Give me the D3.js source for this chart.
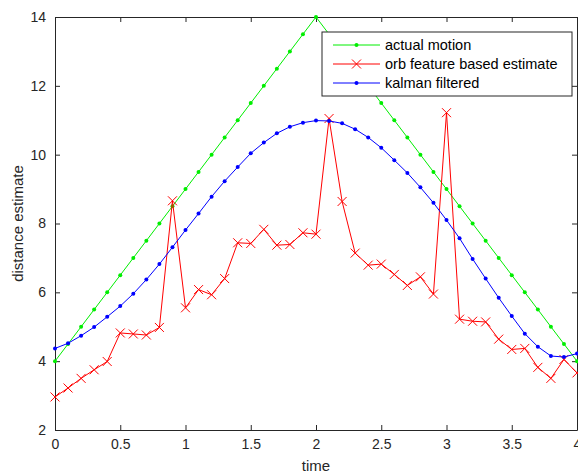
<!DOCTYPE html>
<meta charset="utf-8">
<title>distance estimate</title>
<script src="https://cdn.jsdelivr.net/npm/d3@7"></script>
<style>
  html,body{margin:0;background:#fff}
  svg{display:block;font-family:"Liberation Sans",Arial,sans-serif}
  .tick text{fill:#262626;font-size:14px}
  .domain,.tick line{stroke:#262626}
</style>
<svg width="578" height="475"></svg>
<script>
// sample times 0..4, step 0.1
const times = d3.range(41).map(i => i / 10);

const actualMotion = [4,4.5,5,5.5,6,6.5,7,7.5,8,8.5,9,9.5,10,10.5,11,11.5,12,12.5,13,13.5,14,
  13.5,13,12.5,12,11.5,11,10.5,10,9.5,9,8.5,8,7.5,7,6.5,6,5.5,5,4.5,4];

const orbEstimate = [2.96,3.22,3.5,3.75,3.99,4.82,4.79,4.76,4.98,8.66,5.55,6.08,5.93,6.4,7.44,7.42,7.83,7.37,7.39,7.73,7.69,
  11.05,8.64,7.14,6.79,6.82,6.52,6.2,6.45,5.95,11.22,5.22,5.16,5.14,4.64,4.34,4.37,3.82,3.5,4.05,3.66];

const kalmanFiltered = [4.37,4.52,4.74,4.99,5.29,5.6,5.96,6.37,6.82,7.31,7.81,8.29,8.78,9.23,9.64,10.04,10.35,10.62,10.81,10.93,10.99,
  10.98,10.91,10.74,10.5,10.2,9.84,9.47,9.05,8.6,8.1,7.57,6.97,6.4,5.84,5.31,4.8,4.42,4.15,4.12,4.22];

const xTicks = [0,0.5,1,1.5,2,2.5,3,3.5,4];
const yTicks = [2,4,6,8,10,12,14];
const legendLabels = ['actual motion','orb feature based estimate','kalman filtered'];

const L = 55, R = 577, T = 17, B = 430;
const svg = d3.select('svg');
const x = d3.scaleLinear().domain([0,4]).range([L,R]);
const y = d3.scaleLinear().domain([2,14]).range([B,T]);

/* axes (box with inward ticks) */
const fmt = d => String(d);
svg.append('g').attr('transform',`translate(0,${B})`)
  .call(d3.axisBottom(x).tickValues(xTicks).tickFormat(fmt).tickSizeInner(-5).tickSizeOuter(0).tickPadding(9));
svg.append('g').attr('transform',`translate(0,${T})`)
  .call(d3.axisTop(x).tickValues(xTicks).tickFormat('').tickSizeInner(-5).tickSizeOuter(0));
svg.append('g').attr('transform',`translate(${L},0)`)
  .call(d3.axisLeft(y).tickValues(yTicks).tickFormat(fmt).tickSizeInner(-5).tickSizeOuter(0).tickPadding(9));
svg.append('g').attr('transform',`translate(${R},0)`)
  .call(d3.axisRight(y).tickValues(yTicks).tickFormat('').tickSizeInner(-5).tickSizeOuter(0));
svg.selectAll('.domain').attr('stroke-width',1);

svg.append('text').attr('x',(L+R)/2).attr('y',471).attr('text-anchor','middle')
  .attr('font-size',15).attr('fill','#262626').text('time');
svg.append('text').attr('transform',`translate(23,${(T+B)/2}) rotate(-90)`).attr('text-anchor','middle')
  .attr('font-size',15).attr('fill','#262626').text('distance estimate');

/* series */
const series = [
  {vals: actualMotion, color: '#00ee00', mark: 'dot'},
  {vals: orbEstimate, color: '#ff0000', mark: 'x'},
  {vals: kalmanFiltered, color: '#0000ff', mark: 'dot'}
];
const line = d3.line().x((d,i) => x(times[i])).y(d => y(d));
const plot = svg.append('g');

function drawMark(g, mark, color, cx, cy) {
  if (mark === 'dot') {
    g.append('circle').attr('cx',cx).attr('cy',cy).attr('r',2).attr('fill',color);
  } else {
    const s = 4.5;
    g.append('path').attr('d',`M${cx-s},${cy-s}L${cx+s},${cy+s}M${cx-s},${cy+s}L${cx+s},${cy-s}`)
      .attr('stroke',color).attr('stroke-width',1).attr('fill','none');
  }
}

series.forEach(s => {
  plot.append('path').datum(s.vals).attr('d',line)
    .attr('fill','none').attr('stroke',s.color).attr('stroke-width',1);
  const g = plot.append('g');
  s.vals.forEach((v,i) => drawMark(g, s.mark, s.color, x(times[i]), y(v)));
});

/* legend */
const lg = svg.append('g');
lg.append('rect').attr('x',322).attr('y',32).attr('width',250).attr('height',64)
  .attr('fill','#fff').attr('stroke','#262626').attr('stroke-width',1);
legendLabels.forEach((lab,i) => {
  const yy = 45 + i * 19;
  lg.append('line').attr('x1',333).attr('x2',380).attr('y1',yy).attr('y2',yy)
    .attr('stroke',series[i].color).attr('stroke-width',1);
  drawMark(lg, series[i].mark, series[i].color, 356.5, yy);
  lg.append('text').attr('x',385).attr('y',yy+5).attr('font-size',14.5).attr('fill','#000').text(lab);
});
</script>
